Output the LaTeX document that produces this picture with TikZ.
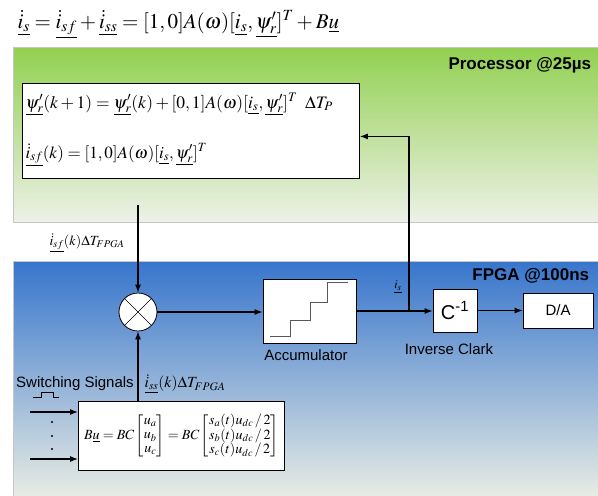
\documentclass[tikz,border=0pt]{standalone}
\usepackage{amsmath}
\usepackage{mathptmx}
\usepackage[no-math]{fontspec}
\setmainfont{Liberation Serif}
\setsansfont{Liberation Sans}
\usetikzlibrary{arrows.meta}

\definecolor{procgreen}{HTML}{92D050}
\definecolor{procpale}{HTML}{EDF1E8}
\definecolor{fpgablue}{HTML}{3775CC}
\definecolor{fpgapale}{HTML}{E8ECE4}

\newcommand{\vu}[1]{\underline{#1}}

\begin{document}
\begin{tikzpicture}[x=1pt, y=-1pt, line width=1.1pt,
  sig/.style={-{Latex[length=8pt,width=6pt]}},
  blockbox/.style={draw, fill=white, line width=0.8pt, inner sep=0pt},
  lbl/.style={font=\sffamily\fontsize{15}{17}\selectfont},
  title/.style={font=\sffamily\bfseries\fontsize{17}{19}\selectfont},
  eq/.style={font=\fontsize{#1}{#1}\selectfont, inner sep=0pt}]
\useasboundingbox (0, 0) rectangle (598, 496);
%Regions
\shade[top color=procgreen, bottom color=procpale] (13, 47) rectangle (598, 222);
\draw[gray!45, line width=0.8pt] (598, 47) -- (13, 47) -- (13, 222) -- (598, 222);
\shade[top color=fpgablue, bottom color=fpgapale] (13, 261) rectangle (598, 496);
\draw[gray!45, line width=0.8pt] (598, 261) -- (13, 261) -- (13, 496);
\node[eq=21, anchor=base west] (topeq) at (17, 28)
  {$\vu{\dot{i}_s} = \vu{\dot{i}_{sf}} + \vu{\dot{i}_{ss}} = [1,0]A(\omega)[\vu{i_s},\vu{\psi'_r}]^T + B\vu{u}$};
\node[title, anchor=north east] (proclbl) at (595, 54) {Processor @25µs};
\node[title, anchor=north east] (fpgalbl) at (593, 265) {FPGA @100ns};
%Processor
\node[blockbox, minimum width=337, minimum height=95, anchor=north west] (procbox) at (22, 83) {};
\node[eq=17.5, anchor=base west] (eqpsi) at (25, 108)
  {$\vu{\psi'_r}(k+1) = \vu{\psi'_r}(k) + [0,1]A(\omega)[\vu{i_s},\vu{\psi'_r}]^T\;\;\Delta T_P$};
\node[eq=17, anchor=base west] (eqisf) at (25, 158)
  {$\vu{\dot{i}_{sf}}(k) = [1,0]A(\omega)[\vu{i_s},\vu{\psi'_r}]^T$};
%FPGA
\coordinate (sfstart) at (138, 205);
\node[eq=14] (isflbl) at (87, 243) {$\vu{\dot{i}_{sf}}(k)\Delta T_{FPGA}$};
\node[draw, circle, fill=white, line width=0.8pt, minimum size=38, inner sep=0pt] (mult) at (138, 312) {};
\draw[line width=0.6pt] (mult.45) -- (mult.225) (mult.135) -- (mult.315);
\node[blockbox, minimum width=93, minimum height=64] (acc) at (309.5, 311) {};
\draw[gray!70!black, line width=1pt] (270, 336) -- (290.7, 336) -- (290.7, 320) -- (310, 320)
  -- (310, 302.3) -- (327.3, 302.3) -- (327.3, 282.7) -- (348.3, 282.7);
\node[lbl] (acclbl) at (306, 355) {Accumulator};
\node[blockbox, minimum width=44, minimum height=43, font=\sffamily\fontsize{20}{22}\selectfont] (cinv) at (455, 310.5) {C$^{\text{-1}}$};
\node[lbl] (cinvlbl) at (449, 349) {Inverse Clark};
\node[blockbox, minimum width=70, minimum height=35, lbl] (da) at (558, 310.5) {D/A};
\coordinate (branch) at (409, 311);
\node[eq=12] (islbl) at (398, 287) {$\vu{i_s}$};
\draw[sig] (sfstart) -- (mult);
\draw[sig] (mult) -- (mult -| acc.west);
\draw[sig] (acc.east |- branch) -- (cinv.west |- branch);
\draw[sig] (branch) |- ([yshift=-5.5pt]procbox.east);
\draw[sig] (cinv) -- (da);
%Switching input
\node[lbl] (swlbl) at (75, 384) {Switching Signals};
\node[eq=15.5] (isslbl) at (185, 384) {$\vu{\dot{i}_{ss}}(k)\Delta T_{FPGA}$};
\node[blockbox, minimum width=206, minimum height=69, anchor=north west] (bubox) at (78, 401) {};
\node[eq=14] (bueq) at (bubox)
  {$B\vu{u} = BC\begin{bmatrix}u_a\\ u_b\\ u_c\end{bmatrix} = BC\begin{bmatrix}s_a(t)u_{dc}\,/\,2\\ s_b(t)u_{dc}\,/\,2\\ s_c(t)u_{dc}\,/\,2\end{bmatrix}$};
\draw[sig] (bubox.north -| mult) -- (mult);
\coordinate (swa) at (30, 412);
\coordinate (swc) at (30, 459);
\draw[sig] (swa) -- (swa -| bubox.west);
\draw[sig] (swc) -- (swc -| bubox.west);
\draw[line width=0.8pt] (33, 397) -- (41.7, 397) -- (41.7, 392) -- (53.3, 392) -- (53.3, 397) -- (59.3, 397);
\foreach \y in {422, 436, 449}
  \fill (52, \y) circle (1.1);
\end{tikzpicture}
\end{document}
